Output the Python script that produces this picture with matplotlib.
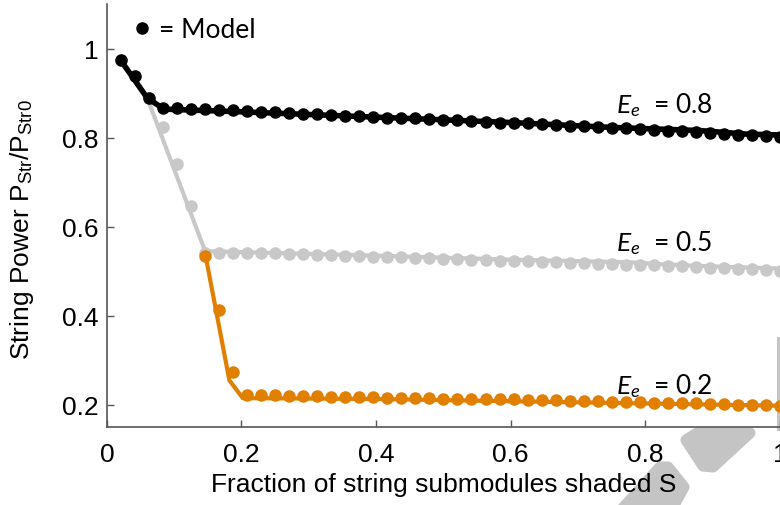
import numpy as np
import matplotlib
matplotlib.use("Agg")
import matplotlib.pyplot as plt
from matplotlib.lines import Line2D
from matplotlib.patches import Polygon

plt.rcParams['font.family'] = ['Liberation Sans', 'DejaVu Sans']
plt.rcParams['mathtext.fontset'] = 'custom'
plt.rcParams['mathtext.rm'] = 'Liberation Sans'
plt.rcParams['mathtext.it'] = 'Lato:italic'

# model points (dots), x = i/48
x_model = np.arange(1, 49) / 48

y_model_08 = [0.975, 0.938, 0.889, 0.866, 0.866, 0.865, 0.864, 0.862, 0.861, 0.859,
              0.858, 0.857, 0.855, 0.853, 0.852, 0.851, 0.849, 0.848, 0.847, 0.845,
              0.844, 0.843, 0.842, 0.840, 0.839, 0.838, 0.836, 0.834, 0.833, 0.832,
              0.830, 0.829, 0.827, 0.826, 0.824, 0.822, 0.821, 0.819, 0.817, 0.816,
              0.814, 0.812, 0.811, 0.809, 0.807, 0.805, 0.803, 0.801]

y_model_05 = [0.975, 0.938, 0.889, 0.823, 0.741, 0.646, 0.542, 0.542, 0.541, 0.541,
              0.540, 0.540, 0.539, 0.538, 0.537, 0.536, 0.535, 0.534, 0.533, 0.532,
              0.531, 0.530, 0.529, 0.528, 0.527, 0.526, 0.525, 0.524, 0.523, 0.522,
              0.521, 0.520, 0.519, 0.518, 0.517, 0.516, 0.515, 0.514, 0.513, 0.512,
              0.511, 0.509, 0.508, 0.507, 0.505, 0.504, 0.502, 0.501]

y_model_02 = [0.975, 0.938, 0.889, 0.823, 0.741, 0.646, 0.535, 0.413, 0.274, 0.221,
              0.221, 0.221, 0.220, 0.219, 0.219, 0.218, 0.218, 0.217, 0.217, 0.216,
              0.216, 0.215, 0.215, 0.214, 0.214, 0.213, 0.213, 0.212, 0.212, 0.211,
              0.210, 0.210, 0.209, 0.209, 0.208, 0.207, 0.207, 0.206, 0.205, 0.204,
              0.204, 0.203, 0.202, 0.201, 0.200, 0.199, 0.199, 0.198]

# measured curves (lines)
x_line_08 = [0.02, 0.06, 0.085, 0.2, 0.4, 0.6, 0.75, 0.88, 0.95, 1.0]
y_line_08 = [0.975, 0.889, 0.864, 0.858, 0.846, 0.834, 0.823, 0.816, 0.808, 0.806]

x_line_05 = [0.06, 0.146, 0.2, 0.4, 0.6, 0.78, 0.83, 0.9, 1.0]
y_line_05 = [0.889, 0.545, 0.543, 0.535, 0.526, 0.520, 0.515, 0.511, 0.506]

x_line_02 = [0.146, 0.182, 0.202, 0.4, 0.6, 0.8, 1.0]
y_line_02 = [0.54, 0.255, 0.215, 0.213, 0.208, 0.203, 0.198]

labels = ['0.8', '0.5', '0.2']
label_y = [0.858, 0.548, 0.226]

c_08 = 'black'
c_05 = '#c8c8c8'
c_02 = '#e07f00'

fig = plt.figure(figsize=(7.8, 5.06), dpi=100)
ax = fig.add_axes([0.137, 0.154, 0.863, 0.836])
ax.set_zorder(1)
ax.patch.set_alpha(0)

ax.plot(x_line_05, y_line_05, color=c_05, lw=3, zorder=2)
ax.plot(x_model, y_model_05, 'o', color=c_05, ms=8, zorder=2)
ax.plot(x_line_02, y_line_02, color=c_02, lw=3, zorder=3)
ax.plot(x_model[6:], y_model_02[6:], 'o', color=c_02, ms=8, zorder=3)
ax.plot(x_line_08, y_line_08, color=c_08, lw=4, zorder=4)
ax.plot(x_model, y_model_08, 'o', color=c_08, ms=8, zorder=4)

for lab, yy in zip(labels, label_y):
    ax.text(0.757, yy, r'$E_e$  = ' + lab, fontsize=19, family=['Lato', 'DejaVu Sans'],
            va='baseline', ha='left')

handle = Line2D([], [], marker='o', color='black', ls='none', ms=8)
ax.legend([handle], ['= Model'], loc='upper left', bbox_to_anchor=(0.005, 1.025),
          frameon=False, handlelength=0.6, handletextpad=0.35,
          prop={'family': 'Lato', 'size': 19})

ax.set_xlim(0, 1)
ax.set_ylim(0.15, 1.1)
ax.set_xticks([0, 0.2, 0.4, 0.6, 0.8, 1.0])
ax.set_xticklabels(['0', '0.2', '0.4', '0.6', '0.8', '1'])
ax.set_yticks([0.2, 0.4, 0.6, 0.8, 1.0])
ax.set_yticklabels(['0.2', '0.4', '0.6', '0.8', '1'])
ax.tick_params(direction='in', length=5, width=1, color='#555555', labelsize=19)
ax.tick_params(axis='y', pad=6)
ax.tick_params(axis='x', pad=11)
for s in ['top', 'right']:
    ax.spines[s].set_visible(False)
for s in ['left', 'bottom']:
    ax.spines[s].set_color('#555555')
    ax.spines[s].set_linewidth(1.2)

ax.set_xlabel('Fraction of string submodules shaded S', fontsize=19, labelpad=4)
ax.set_ylabel(r'String Power P$_{\mathrm{Str}}$/P$_{\mathrm{Str0}}$', fontsize=19)
ax.yaxis.set_label_coords(-0.106, 0.47)

# grey watermark shapes at the bottom right
def px(pts):
    return [(x / 780, 1 - y / 506) for x, y in pts]

wm = dict(transform=fig.transFigure, facecolor='#c4c4c4', edgecolor='#c4c4c4',
          lw=8, joinstyle='round', zorder=0)
fig.patches.append(Polygon(px([(686, 441), (697, 434), (750, 434), (713, 468), (703, 467)]), **wm))
fig.patches.append(Polygon(px([(622, 510), (660, 468), (668, 468), (684, 488), (672, 510)]), **wm))
fig.patches.append(Polygon(px([(777, 338), (781, 338), (781, 432), (777, 432)]),
                           transform=fig.transFigure, facecolor='#c4c4c4', lw=0, zorder=0))

fig.savefig('out.png', dpi=100)
